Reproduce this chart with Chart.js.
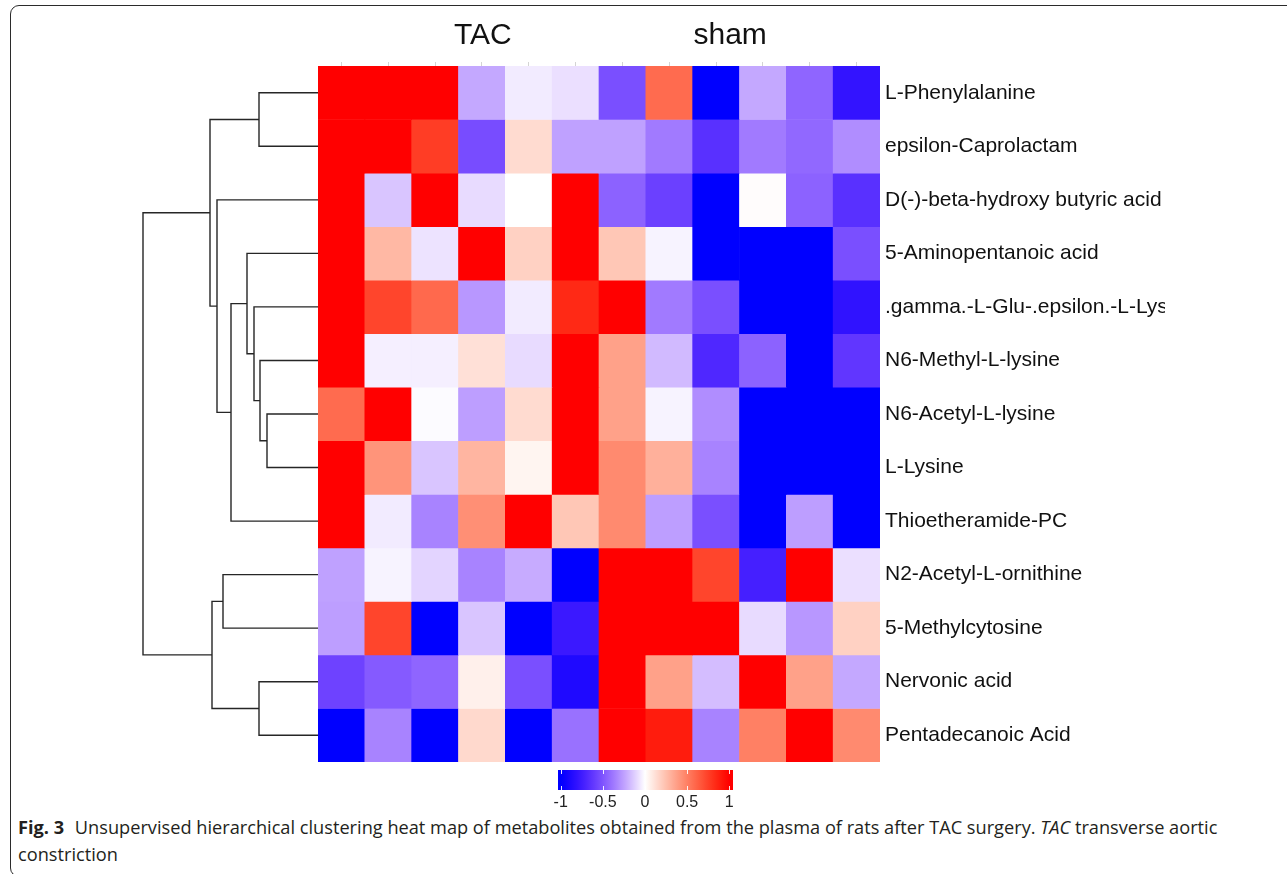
<!DOCTYPE html>
<html>
<head>
<meta charset="utf-8">
<script src="https://cdn.jsdelivr.net/npm/chart.js@4.4.1/dist/chart.umd.min.js"></script>
<style>
  html, body { margin: 0; padding: 0; background: #fff; overflow: hidden; }
  body { width: 1287px; height: 874px; position: relative; }
  #frame { position: absolute; left: 10px; top: 5px; width: 1300px; height: 872px;
           border: 1.3px solid #2b2b2b; border-radius: 9px; box-sizing: border-box; }
  #heat { position: absolute; left: 0; top: 0; }
  #dendro { position: absolute; left: 130px; top: 66px; }
  #caption { position: absolute; left: 18px; top: 814px; width: 1230px;
             font-family: "Open Sans", sans-serif; font-size: 18.2px; line-height: 27px; color: #231f20; }
  #caption b { font-weight: 700; margin-right: 6px; }
</style>
</head>
<body>
<div id="frame"></div>
<canvas id="heat" width="1165" height="812"></canvas>
<canvas id="dendro" width="188" height="696"></canvas>
<div id="caption"><b>Fig. 3</b> Unsupervised hierarchical clustering heat map of metabolites obtained from the plasma of rats after TAC surgery. <i>TAC</i> transverse aortic constriction</div>

<script>
// =====================================================
// DATA
// =====================================================

const sampleNames = ['TAC1', 'TAC2', 'TAC3', 'TAC4', 'TAC5', 'TAC6',
                     'sham1', 'sham2', 'sham3', 'sham4', 'sham5', 'sham6']

const groupNames = ['TAC', 'sham']

const rowNames = [
  'L-Phenylalanine',
  'epsilon-Caprolactam',
  'D(-)-beta-hydroxy butyric acid',
  '5-Aminopentanoic acid',
  '.gamma.-L-Glu-.epsilon.-L-Lys',
  'N6-Methyl-L-lysine',
  'N6-Acetyl-L-lysine',
  'L-Lysine',
  'Thioetheramide-PC',
  'N2-Acetyl-L-ornithine',
  '5-Methylcytosine',
  'Nervonic acid',
  'Pentadecanoic Acid'
]

// scaled values per row, one per sample (clipped to -1..1 on the colour key)
const heatValues = [
  [ 1,     1,     1,    -0.23, -0.05, -0.08, -0.52,  0.58, -1,    -0.23, -0.44, -0.80],
  [ 1,     1,     0.76, -0.53,  0.14, -0.25, -0.25, -0.37, -0.65, -0.37, -0.43, -0.31],
  [ 1,    -0.15,  1,    -0.09,  0,     1,    -0.45, -0.58, -1,     0.01, -0.45, -0.65],
  [ 1,     0.28, -0.07,  1,     0.18,  1,     0.22, -0.03, -1,    -1,    -1,    -0.52],
  [ 1,     0.73,  0.59, -0.28, -0.05,  0.84,  1,    -0.37, -0.52, -1,    -1,    -0.81],
  [ 1,    -0.04, -0.04,  0.12, -0.09,  1,     0.37, -0.18, -0.69, -0.45, -1,    -0.62],
  [ 0.58,  1,    -0.01, -0.26,  0.14,  1,     0.37, -0.03, -0.31, -1,    -1,    -1   ],
  [ 1,     0.42, -0.15,  0.29,  0.04,  1,     0.46,  0.31, -0.34, -1,    -1,    -1   ],
  [ 1,    -0.05, -0.34,  0.44,  1,     0.22,  0.46, -0.26, -0.52, -1,    -0.26, -1   ],
  [-0.25, -0.03, -0.11, -0.34, -0.22, -1,     1,     1,     0.73, -0.73,  1,    -0.08],
  [-0.26,  0.73, -1,    -0.15, -1,    -0.77,  1,     1,     1,    -0.09, -0.28,  0.18],
  [-0.57, -0.48, -0.44,  0.06, -0.52, -0.88,  1,     0.37, -0.17,  1,     0.37, -0.23],
  [-1,    -0.34, -1,     0.15, -1,    -0.40,  1,     0.89, -0.34,  0.50,  1,     0.46]
]

const colorbarTicks = [-1, -0.5, 0, 0.5, 1]

// row dendrogram, hclust style: negative = leaf (row number), positive = earlier merge
const mergePairs = [
  [-1, -2], [-7, -8], [-6, 2], [-5, 3], [-4, 4], [5, -9],
  [-3, 6], [1, 7], [-10, -11], [-12, -13], [9, 10], [8, 11]
]
const mergeHeights = [59, 51, 58, 64, 71, 87, 101, 108, 95, 59, 106, 175]

// =====================================================
// COLOURS
// =====================================================

function cellColor(v) {
  v = Math.max(-1, Math.min(1, v))
  if (v >= 0) {
    const g = 255 * (1 - v)
    const b = 255 * Math.pow(1 - v, 1.35)
    return `rgb(255,${Math.round(g)},${Math.round(b)})`
  }
  const s = 1 - (-v)
  return `rgb(${Math.round(255 * s)},${Math.round(255 * Math.pow(s, 1.6))},255)`
}

const FONT = '"Liberation Sans", Arial, sans-serif'

// =====================================================
// HEAT MAP
// =====================================================

const overlay = {
  id: 'overlay',
  afterDraw(chart) {
    const { ctx, scales: { x } } = chart
    ctx.save()

    // group titles
    const groupAt = [3.02, 8.3]
    ctx.font = `30px ${FONT}`
    ctx.fillStyle = '#111'
    ctx.textAlign = 'center'
    ctx.textBaseline = 'alphabetic'
    groupNames.forEach((g, i) => ctx.fillText(g, x.getPixelForValue(groupAt[i]), 44))

    // colour key
    const k0 = 560.7, k1 = 729.3
    const kx = v => k0 + (v + 1) / 2 * (k1 - k0)
    const grad = ctx.createLinearGradient(k0, 0, k1, 0)
    for (let i = 0; i <= 50; i++) grad.addColorStop(i / 50, cellColor(-1 + 2 * i / 50))
    ctx.fillStyle = grad
    ctx.fillRect(558, 770, 175, 20)

    ctx.strokeStyle = 'rgba(255,255,255,0.9)'
    ctx.lineWidth = 1
    colorbarTicks.forEach(v => {
      const px = Math.round(kx(v)) + 0.5
      ctx.beginPath()
      ctx.moveTo(px, 770); ctx.lineTo(px, 774)
      ctx.moveTo(px, 786); ctx.lineTo(px, 790)
      ctx.stroke()
    })

    ctx.font = `16px ${FONT}`
    ctx.fillStyle = '#222'
    colorbarTicks.forEach(v => ctx.fillText(String(v), kx(v), 807))

    ctx.restore()
  }
}

new Chart(document.getElementById('heat').getContext('2d'), {
  type: 'bar',
  data: {
    labels: sampleNames,
    datasets: rowNames.map((name, r) => ({
      label: name,
      data: sampleNames.map(() => 1),
      backgroundColor: heatValues[r].map(cellColor),
      borderWidth: 0,
      barPercentage: 1,
      categoryPercentage: 1,
      stack: 'rows'
    }))
  },
  options: {
    responsive: false,
    animation: false,
    layout: { padding: { left: 318, top: 60, right: 0, bottom: 50 } },
    plugins: {
      legend: { display: false },
      tooltip: { enabled: false }
    },
    scales: {
      x: {
        type: 'category',
        position: 'top',
        stacked: true,
        offset: true,
        grid: { offset: false, drawOnChartArea: false, drawTicks: true, tickLength: 4, color: '#d4d4d4' },
        border: { display: false },
        ticks: { callback: () => '', padding: 0 },
        afterFit(a) { a.height = 6 }
      },
      y: {
        type: 'linear',
        position: 'right',
        stacked: true,
        reverse: true,
        min: 0,
        max: 13,
        grid: { display: false, drawTicks: false },
        border: { display: false },
        afterBuildTicks(a) { a.ticks = rowNames.map((_, i) => ({ value: i + 0.5 })) },
        ticks: {
          autoSkip: false,
          padding: 5,
          color: '#111',
          font: { family: FONT, size: 21 },
          callback: (v, i) => rowNames[i]
        },
        afterFit(a) { a.width = 285 }
      }
    }
  },
  plugins: [overlay]
})

// =====================================================
// DENDROGRAMA
// =====================================================

const nodes = []
const segments = []
mergePairs.forEach(([a, b], k) => {
  const A = a < 0 ? { h: 0, y: -a - 0.5 } : nodes[a - 1]
  const B = b < 0 ? { h: 0, y: -b - 0.5 } : nodes[b - 1]
  const h = mergeHeights[k]
  nodes.push({ h, y: (A.y + B.y) / 2 })
  segments.push([
    { x: A.h, y: A.y }, { x: h, y: A.y },
    { x: h, y: B.y }, { x: B.h, y: B.y }
  ])
})

new Chart(document.getElementById('dendro').getContext('2d'), {
  type: 'scatter',
  data: {
    datasets: segments.map(pts => ({
      data: pts,
      showLine: true,
      borderColor: '#262626',
      borderWidth: 1.4,
      pointRadius: 0,
      tension: 0,
      clip: false
    }))
  },
  options: {
    responsive: false,
    animation: false,
    layout: { padding: 0 },
    plugins: { legend: { display: false }, tooltip: { enabled: false } },
    scales: {
      x: { type: 'linear', reverse: true, min: 0, max: 188, display: false },
      y: { type: 'linear', reverse: true, min: 0, max: 13, display: false }
    }
  }
})
</script>
</body>
</html>
